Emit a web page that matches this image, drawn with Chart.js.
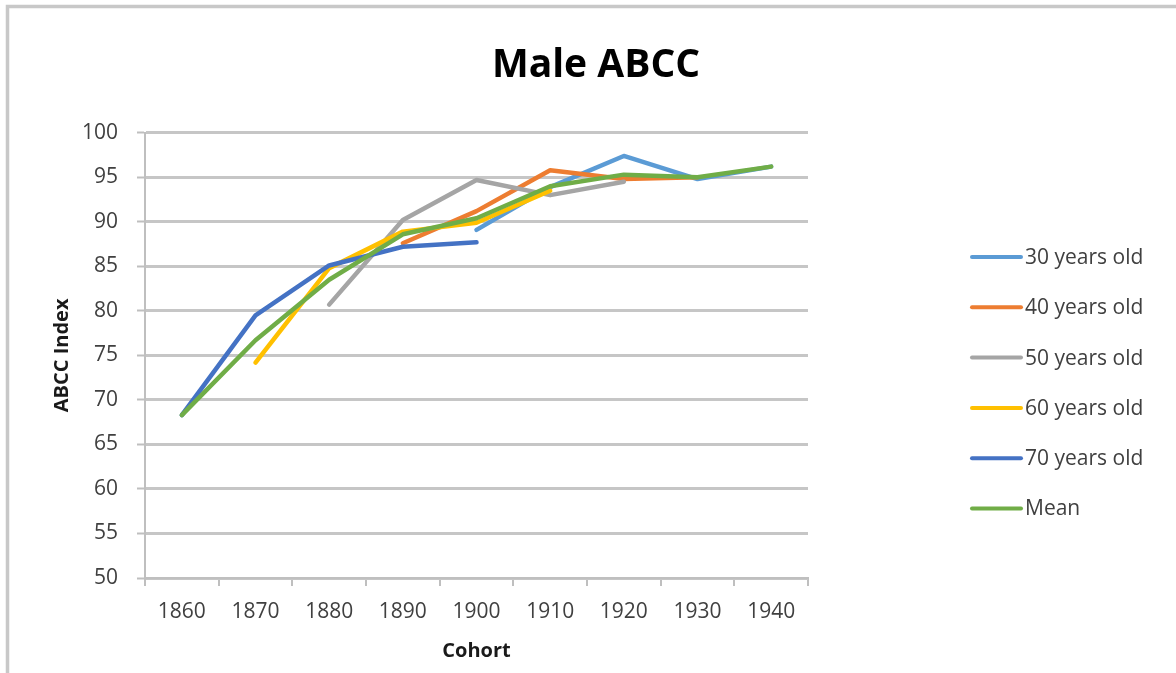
<!DOCTYPE html>
<html><head><meta charset="utf-8">
<script src="https://cdn.jsdelivr.net/npm/chart.js@4.4.1/dist/chart.umd.min.js"></script>
<style>html,body{margin:0;padding:0;background:#fff;overflow:hidden}canvas{display:block}</style>
</head><body>
<canvas id="c" width="1176" height="673"></canvas>
<script>
const categories = ['1860','1870','1880','1890','1900','1910','1920','1930','1940'];
const seriesNames = ['30 years old','40 years old','50 years old','60 years old','70 years old','Mean'];
const age30 = [null, null, null, null, 89.1, 93.9, 97.4, 94.8, 96.2];
const age40 = [null, null, null, 87.6, 91.2, 95.8, 94.8, 95.0, null];
const age50 = [null, null, 80.7, 90.2, 94.7, 93.0, 94.5, null, null];
const age60 = [null, 74.2, 84.8, 88.9, 89.9, 93.5, null, null, null];
const age70 = [68.3, 79.5, 85.1, 87.2, 87.7, null, null, null, null];
const mean  = [68.3, 76.7, 83.5, 88.6, 90.4, 94.0, 95.3, 95.0, 96.2];
const yMin = 50, yMax = 100, yStep = 5;
const colors = ['#5B9BD5', '#ED7D31', '#A5A5A5', '#FFC000', '#4472C4', '#70AD47'];
const seriesData = [age30, age40, age50, age60, age70, mean];

Chart.defaults.font.family = "'Open Sans', sans-serif";

const frame = {
  id: 'frame',
  beforeDraw(chart) {
    const ctx = chart.ctx;
    ctx.save();
    ctx.fillStyle = '#fff';
    ctx.fillRect(0, 0, chart.width, chart.height);
    ctx.strokeStyle = '#c8c8c8';
    ctx.lineWidth = 3.5;
    ctx.beginPath();
    ctx.moveTo(7.5, chart.height + 5);
    ctx.lineTo(7.5, 6.5);
    ctx.lineTo(chart.width + 5, 6.5);
    ctx.stroke();
    ctx.restore();
  }
};

const sideLegend = {
  id: 'sideLegend',
  afterDraw(chart) {
    const ctx = chart.ctx;
    ctx.save();
    ctx.font = "21px 'Open Sans'";
    ctx.textBaseline = 'middle';
    ctx.textAlign = 'left';
    chart.data.datasets.forEach((ds, i) => {
      const y = 257 + i * 50.3;
      ctx.strokeStyle = ds.borderColor;
      ctx.lineWidth = 4;
      ctx.lineCap = 'round';
      ctx.beginPath();
      ctx.moveTo(972, y);
      ctx.lineTo(1021, y);
      ctx.stroke();
      ctx.fillStyle = '#404040';
      ctx.fillText(ds.label, 1025, y + 1);
    });
    ctx.restore();
  }
};

new Chart(document.getElementById('c'), {
  type: 'line',
  data: {
    labels: categories,
    datasets: seriesNames.map((name, i) => ({
      label: name,
      data: seriesData[i],
      borderColor: colors[i],
      backgroundColor: colors[i],
      borderWidth: 4.5,
      pointRadius: 0,
      pointHoverRadius: 0,
      tension: 0,
      fill: false,
      spanGaps: false,
      borderCapStyle: 'round',
      borderJoinStyle: 'round',
      order: seriesNames.length - i,
      xAxisID: 'x',
      yAxisID: 'y'
    }))
  },
  options: {
    responsive: false,
    animation: false,
    events: [],
    layout: { padding: { left: 16, top: 8, right: 0, bottom: 0 } },
    plugins: {
      legend: { display: false },
      tooltip: { enabled: false },
      title: {
        display: true,
        text: 'Male ABCC',
        color: '#000',
        font: { size: 39, weight: 'bold' },
        padding: { top: 34, bottom: 44 }
      }
    },
    scales: {
      x: {
        type: 'category',
        offset: true,
        grid: { display: true, drawOnChartArea: false, drawTicks: true, tickLength: 8, offset: true, color: '#bfbfbf', lineWidth: 2 },
        border: { display: true, color: '#bfbfbf', width: 2 },
        ticks: { color: '#404040', font: { size: 21 }, padding: 13, maxRotation: 0, autoSkip: false },
        title: { display: true, text: 'Cohort', color: '#1a1a1a', font: { size: 20, weight: 'bold' }, padding: { top: 0, bottom: 10 } },
        afterFit(s) { s.height = 95; }
      },
      y: {
        type: 'linear',
        position: 'left',
        min: yMin,
        max: yMax,
        ticks: { stepSize: yStep, color: '#404040', font: { size: 21 }, padding: 19 },
        grid: { color: '#c6c6c6', lineWidth: 3, tickLength: 8, tickColor: '#bfbfbf', tickWidth: 2 },
        border: { display: true, color: '#bfbfbf', width: 2 },
        title: { display: true, text: 'ABCC Index', color: '#1a1a1a', font: { size: 20, weight: 'bold' }, padding: { top: 34, bottom: 0 } },
        afterFit(s) { s.width = 129; }
      },
      yR: {
        type: 'linear',
        position: 'right',
        display: true,
        grid: { display: false },
        border: { display: false },
        ticks: { display: false },
        afterFit(s) { s.width = 368; }
      }
    }
  },
  plugins: [frame, sideLegend]
});
</script>
</body></html>
